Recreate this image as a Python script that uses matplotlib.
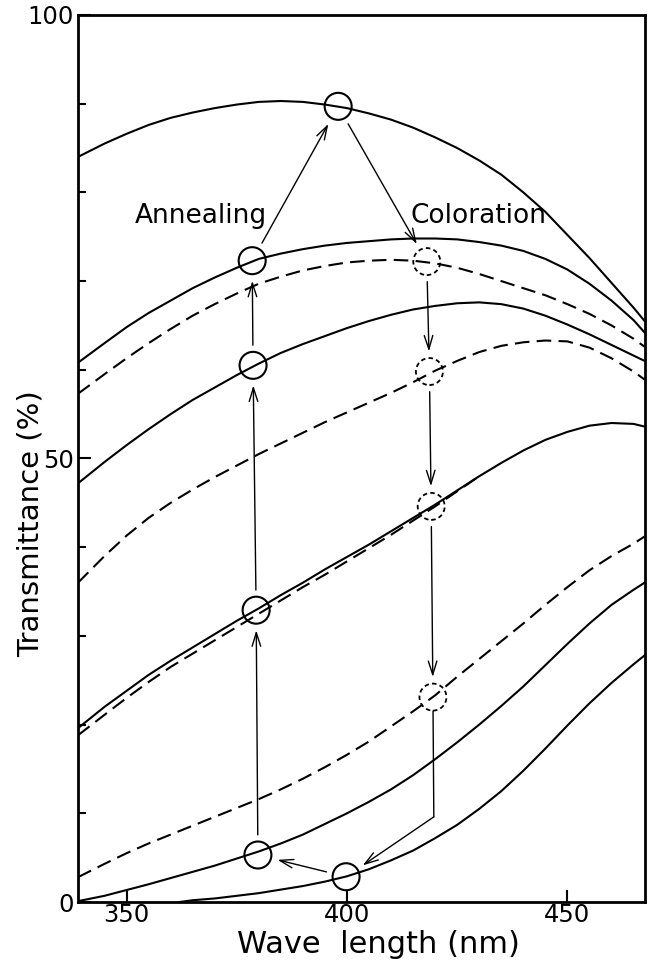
import matplotlib
matplotlib.use('Agg')
import matplotlib.pyplot as plt
from matplotlib.patches import Ellipse

# wavelength (nm) and transmittance (%)
wl = [339, 345, 350, 355, 360, 365, 370, 375, 380, 385, 390, 395, 400, 405,
      410, 415, 420, 425, 430, 435, 440, 445, 450, 455, 460, 465, 467.5]

t_a = [84.0, 85.5, 86.6, 87.6, 88.4, 89.0, 89.5, 89.9, 90.2, 90.3, 90.2, 89.9, 89.5, 88.9,
       88.2, 87.3, 86.2, 85.0, 83.6, 82.0, 80.0, 77.8, 75.2, 72.6, 69.8, 67.0, 65.5]  # solid, top
t_b = [60.8, 63.0, 64.8, 66.4, 67.8, 69.2, 70.4, 71.5, 72.5, 73.1, 73.6, 74.0, 74.3, 74.5,
       74.7, 74.8, 74.8, 74.7, 74.4, 74.0, 73.4, 72.5, 71.3, 69.7, 67.8, 65.6, 64.2]  # solid
t_c = [57.3, 59.5, 61.3, 63.0, 64.6, 66.1, 67.4, 68.6, 69.7, 70.5, 71.2, 71.7, 72.1, 72.3,
       72.4, 72.3, 72.0, 71.5, 70.8, 70.0, 69.2, 68.4, 67.4, 66.3, 65.0, 63.5, 62.6]  # dashed
t_d = [47.2, 49.6, 51.5, 53.3, 55.0, 56.6, 58.0, 59.4, 60.7, 61.9, 62.9, 63.8, 64.7, 65.5,
       66.2, 66.8, 67.2, 67.5, 67.6, 67.4, 66.9, 66.1, 65.1, 64.0, 62.8, 61.6, 61.0]  # solid
t_e = [36.0, 39.0, 41.3, 43.3, 45.0, 46.5, 47.9, 49.2, 50.5, 51.7, 52.9, 54.1, 55.2, 56.3,
       57.4, 58.6, 59.9, 61.0, 62.0, 62.7, 63.1, 63.3, 63.2, 62.5, 61.3, 59.8, 58.9]  # dashed
t_f = [19.6, 22.0, 23.8, 25.6, 27.2, 28.7, 30.2, 31.7, 33.1, 34.6, 36.0, 37.5, 38.9, 40.3,
       41.8, 43.3, 44.8, 46.4, 48.0, 49.5, 50.9, 52.1, 53.0, 53.7, 54.0, 53.9, 53.6]  # solid
t_h = [2.8, 4.3, 5.5, 6.6, 7.6, 8.6, 9.6, 10.6, 11.6, 12.7, 13.9, 15.2, 16.6, 18.1,
       19.8, 21.5, 23.3, 25.4, 27.4, 29.4, 31.4, 33.5, 35.5, 37.4, 39.0, 40.4, 41.2]  # dashed
t_i = [0.1, 0.7, 1.35, 2.0, 2.7, 3.4, 4.1, 4.9, 5.7, 6.6, 7.6, 8.8, 10.0, 11.3,
       12.7, 14.3, 16.1, 18.0, 20.0, 22.1, 24.3, 26.7, 29.1, 31.4, 33.5, 35.2, 36.0]  # solid

wl_g = [339, 345, 350, 355, 360, 365, 370, 375, 380, 385, 390, 395, 400, 405,
        410, 415, 420, 425, 430]
t_g = [18.8, 21.1, 23.0, 24.8, 26.5, 28.0, 29.5, 31.0, 32.5, 34.0, 35.5, 36.9, 38.4, 39.9,
       41.4, 43.0, 44.6, 46.3, 48.0]  # dashed, runs into t_f

wl_j = [362, 365, 370, 375, 380, 385, 390, 395, 400, 405, 410, 415, 420, 425,
        430, 435, 440, 445, 450, 455, 460, 465, 467.5]
t_j = [0.0, 0.2, 0.4, 0.7, 1.0, 1.4, 1.8, 2.3, 2.9, 3.7, 4.7, 5.8, 7.2, 8.7,
       10.5, 12.5, 14.8, 17.3, 19.9, 22.4, 24.7, 26.8, 27.8]  # solid, bottom

solid_curves = [(wl, t_a), (wl, t_b), (wl, t_d), (wl, t_f), (wl, t_i), (wl_j, t_j)]
dashed_curves = [(wl, t_c), (wl, t_e), (wl_g, t_g), (wl, t_h)]

# marker circles (nm, %)
top_pt = (398.0, 89.7)
bottom_pt = (399.8, 2.85)
annealing_pts = [(379.8, 5.3), (379.4, 32.9), (378.7, 60.5), (378.5, 72.3)]
coloration_pts = [(418.1, 72.2), (418.7, 59.8), (419.1, 44.6), (419.5, 23.1)]
bend_pt = (419.7, 9.6)

x_lim = (339, 467.6)
y_lim = (0, 100)

fig = plt.figure(figsize=(6.48, 9.72), dpi=100)
ax = fig.add_axes([0.1204, 0.072, 0.875, 0.9126])
ax.set_xlim(*x_lim)
ax.set_ylim(*y_lim)

for x, y in solid_curves:
    ax.plot(x, y, color='black', lw=1.5)
for x, y in dashed_curves:
    ax.plot(x, y, color='black', lw=1.5, dashes=(7, 3.5))

# circle size in data units so they look round
circ_px = 27
pos = ax.get_position()
ax_w = pos.width * fig.get_figwidth() * fig.dpi
ax_h = pos.height * fig.get_figheight() * fig.dpi
cw = circ_px * (x_lim[1] - x_lim[0]) / ax_w
ch = circ_px * (y_lim[1] - y_lim[0]) / ax_h

for p in [top_pt, bottom_pt] + annealing_pts:
    ax.add_patch(Ellipse(p, cw, ch, fill=False, lw=1.5, ec='black'))
for p in coloration_pts:
    ax.add_patch(Ellipse(p, cw, ch, fill=False, lw=1.3, ec='black', ls=(0, (2.5, 1.8))))

arrow_kw = dict(arrowstyle='->,head_length=0.7,head_width=0.22', lw=1.0, color='black',
                shrinkA=14.5, shrinkB=14.5, mutation_scale=14)


def arrow(p, q, **kw):
    props = dict(arrow_kw)
    props.update(kw)
    ax.annotate('', xy=q, xytext=p, arrowprops=props)


chain_up = annealing_pts + [top_pt]
for p, q in zip(chain_up[:-1], chain_up[1:]):
    arrow(p, q)
chain_down = [top_pt] + coloration_pts
for p, q in zip(chain_down[:-1], chain_down[1:]):
    arrow(p, q)
arrow(coloration_pts[-1], bend_pt, arrowstyle='-', shrinkA=10, shrinkB=0)
arrow(bend_pt, bottom_pt, shrinkA=0)
arrow(bottom_pt, annealing_pts[0])

ax.text(351.9, 76.6, 'Annealing', fontsize=19, va='baseline', ha='left')
ax.text(414.3, 76.6, 'Coloration', fontsize=19, va='baseline', ha='left')

ax.set_xticks([350, 400, 450])
ax.set_yticks([0, 50, 100])
ax.set_yticks(range(10, 100, 10), minor=True)
ax.tick_params(axis='both', which='major', direction='in', length=9, width=1.5,
               labelsize=17.5)
ax.tick_params(axis='x', which='major', pad=1)
ax.tick_params(axis='y', which='major', pad=3)
ax.tick_params(axis='y', which='minor', direction='in', length=6, width=1.5)
for s in ax.spines.values():
    s.set_linewidth(2.0)

ax.set_xlabel('Wave  length (nm)', fontsize=22)
ax.set_ylabel('Transmittance (%)', fontsize=21, va='center')
ax.xaxis.set_label_coords(0.529, -0.031)
ax.yaxis.set_label_coords(-0.084, 0.427)

fig.savefig('out.png', dpi=100)
